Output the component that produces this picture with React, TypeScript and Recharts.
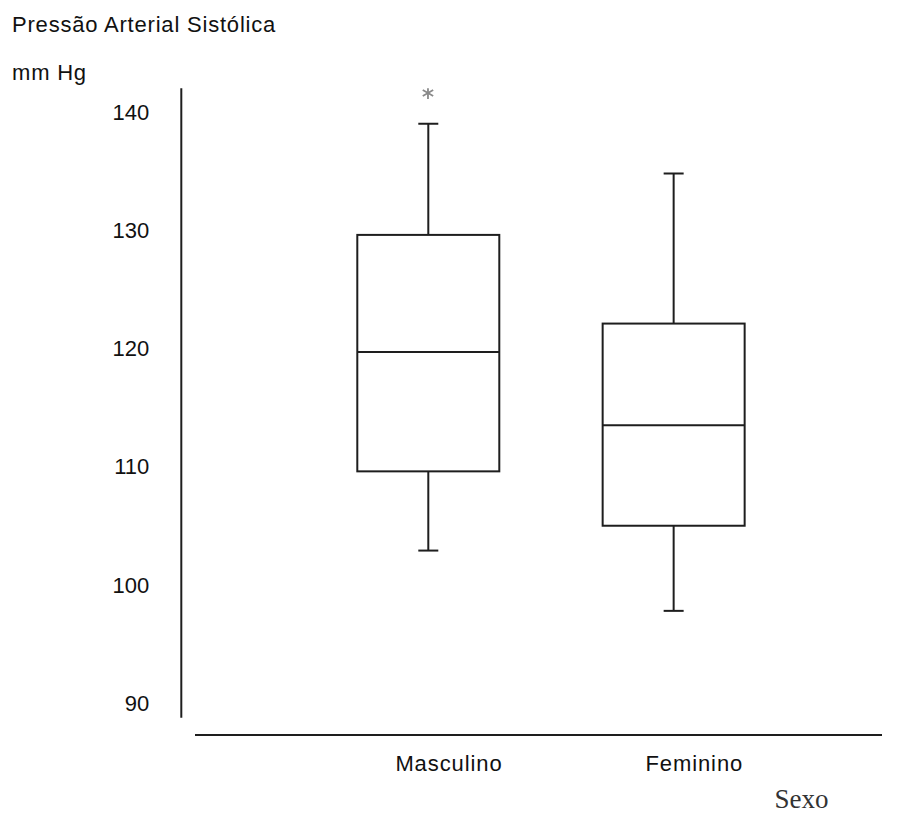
import { ComposedChart, Bar, Scatter, XAxis, YAxis } from "recharts";

// box plot summary per group (mm Hg)
const groups = ["Masculino", "Feminino"];
const whiskerLow = [102.9, 97.8];
const quartile1 = [109.6, 105.0];
const medians = [119.7, 113.5];
const quartile3 = [129.6, 122.1];
const whiskerHigh = [139.0, 134.8];
const outliers: (number | null)[] = [141.6, null];
const yTicks = [90, 100, 110, 120, 130, 140];

const Y_MIN = 87.3;
const Y_MAX = 142;
const INK = "#1e1e1e";

const data = groups.map((g, i) => ({
  sexo: g,
  box: [quartile1[i], quartile3[i]],
  low: whiskerLow[i],
  q1: quartile1[i],
  median: medians[i],
  q3: quartile3[i],
  high: whiskerHigh[i],
  outlier: outliers[i],
}));

const BoxShape = (props: any) => {
  const { x, y, width, height, payload } = props;
  if (!payload || height == null) return null;
  // pixels per unit taken from the bar the library laid out
  const ppu = height / (payload.q3 - payload.q1);
  const toY = (v: number) => y + (payload.q3 - v) * ppu;
  const cx = x + width / 2;
  const cap = 10;
  const hi = toY(payload.high);
  const lo = toY(payload.low);
  const med = toY(payload.median);
  return (
    <g stroke={INK} strokeWidth={2} fill="none">
      <line x1={cx} x2={cx} y1={hi} y2={y} />
      <line x1={cx - cap} x2={cx + cap} y1={hi} y2={hi} />
      <rect x={x} y={y} width={width} height={height} fill="#fff" />
      <line x1={x} x2={x + width} y1={med} y2={med} />
      <line x1={cx} x2={cx} y1={y + height} y2={lo} />
      <line x1={cx - cap} x2={cx + cap} y1={lo} y2={lo} />
    </g>
  );
};

const Asterisk = (props: any) => {
  const { cx, cy, payload } = props;
  if (!payload || payload.outlier == null || cx == null || cy == null) return null;
  const r = 6;
  const angles = [90, 30, 150];
  return (
    <g stroke="#8a8a8a" strokeWidth={1.8}>
      {angles.map((a) => {
        const dx = Math.cos((a * Math.PI) / 180) * r;
        const dy = Math.sin((a * Math.PI) / 180) * r;
        return <line key={a} x1={cx - dx} y1={cy - dy} x2={cx + dx} y2={cy + dy} />;
      })}
    </g>
  );
};

const XTick = (props: any) => {
  const { x, y, payload } = props;
  return (
    <text
      x={x + 21}
      y={y}
      dy="0.71em"
      textAnchor="middle"
      fill="#111"
      fontSize={22}
      letterSpacing={0.9}
      fontFamily="'Liberation Sans', Arial, sans-serif"
    >
      {payload.value}
    </text>
  );
};

const textStyle: React.CSSProperties = {
  position: "absolute",
  fontFamily: "'Liberation Sans', Arial, sans-serif",
  fontSize: 22,
  lineHeight: 1,
  letterSpacing: 0.8,
  color: "#111",
  whiteSpace: "nowrap",
};

export default function App() {
  return (
    <div style={{ position: "absolute", left: 0, top: 0, width: 909, height: 814, background: "#fff" }}>
      <div style={{ ...textStyle, left: 12, top: 14 }}>Pressão Arterial Sistólica</div>
      <div style={{ ...textStyle, left: 12, top: 62 }}>mm Hg</div>
      <ComposedChart
        width={909}
        height={814}
        data={data}
        margin={{ top: 88.3, right: 27, bottom: 39, left: 0 }}
      >
        <XAxis
          dataKey="sexo"
          type="category"
          height={40}
          padding={{ left: 124, right: 86 }}
          tickLine={false}
          tickMargin={14}
          tick={<XTick />}
          axisLine={{ stroke: INK, strokeWidth: 2, strokeDasharray: "0 13.7 1000" }}
        />
        <YAxis
          type="number"
          domain={[Y_MIN, Y_MAX]}
          ticks={yTicks}
          allowDataOverflow
          width={181.3}
          tickLine={false}
          tickMargin={26}
          tick={{ fill: "#111", fontSize: 22, fontFamily: "'Liberation Sans', Arial, sans-serif" }}
          axisLine={{ stroke: INK, strokeWidth: 2, strokeDasharray: "629.4 1000" }}
        />
        <Bar dataKey="box" barSize={142} shape={<BoxShape />} isAnimationActive={false} />
        <Scatter dataKey="outlier" shape={<Asterisk />} isAnimationActive={false} />
      </ComposedChart>
      <div
        style={{
          ...textStyle,
          left: 774.5,
          top: 785.7,
          fontFamily: "'Liberation Serif', 'Times New Roman', serif",
          fontSize: 27,
          letterSpacing: 0,
          color: "#333",
        }}
      >
        Sexo
      </div>
    </div>
  );
}
